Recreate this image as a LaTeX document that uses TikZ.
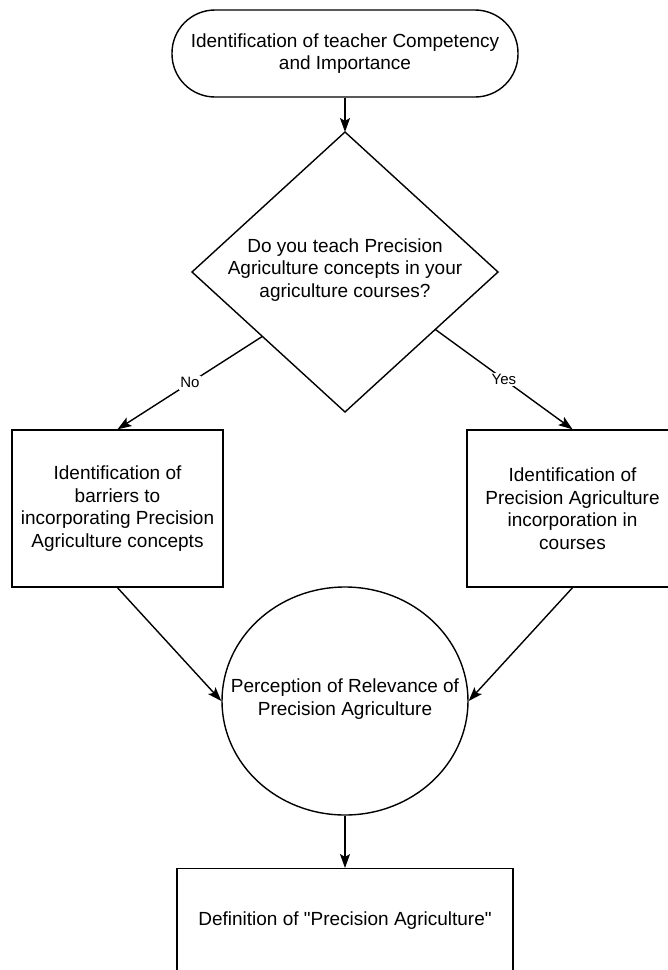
\documentclass[tikz,border=0pt]{standalone}
\usepackage{fontspec}
\defaultfontfeatures[\rmfamily,\sffamily]{}
\setmainfont{Liberation Sans}
\usetikzlibrary{arrows.meta,shapes.geometric,calc}
\begin{document}
\begin{tikzpicture}[x=1pt,y=-1pt,
  line width=1.4pt,
  txt/.style={font=\fontsize{19}{22.5}\selectfont, align=center},
  arr/.style={-{Stealth[length=14pt,width=10pt,inset=3pt]}},
  lbl/.style={font=\fontsize{15}{17}\selectfont, fill=white, inner sep=1.5pt},
  boxnode/.style={draw, txt}
]
\useasboundingbox (0,0) rectangle (668,970);
\clip (0,0) rectangle (668,970);

\node[boxnode, rounded corners=43pt, minimum width=346pt, minimum height=87pt] (start) at (345,53.5)
  {Identification of teacher Competency\\and Importance};

\coordinate (dT) at (345,132);
\coordinate (dB) at (345,412);
\coordinate (dL) at (192,272);
\coordinate (dR) at (498,272);
\draw (dT) -- (dR) -- (dB) -- (dL) -- cycle;
\node[txt] (q) at (345,270) {Do you teach Precision\\Agriculture concepts in your\\agriculture courses?};

\node[boxnode, minimum width=211pt, minimum height=157pt] (lb) at (117.5,508.5)
  {Identification of\\barriers to\\incorporating Precision\\Agriculture concepts};
\node[boxnode, minimum width=211pt, minimum height=157pt] (rb) at (572.5,508.5)
  {Identification of\\Precision Agriculture\\incorporation in\\courses};

\node[draw, ellipse, minimum width=246pt, minimum height=228pt, inner sep=0pt] (c) at (345,701) {};
\node[txt] (ct) at (345,699) {Perception of Relevance of\\Precision Agriculture};

\node[boxnode, anchor=north, minimum width=336pt, minimum height=104pt] (bb) at (345,868)
  {Definition of "Precision Agriculture"};

\draw[arr] (start.south) -- (dT);
\draw[arr] ($(dL)!0.46!(dB)$) -- (lb.north) node[lbl, pos=0.5] {No};
\draw[arr] ($(dR)!0.41!(dB)$) -- (rb.north) node[lbl, pos=0.5] {Yes};
\draw[arr] (lb.south) -- (c.west);
\draw[arr] (rb.south) -- (c.east);
\draw[arr] (c.south) -- (bb.north);
\end{tikzpicture}
\end{document}
